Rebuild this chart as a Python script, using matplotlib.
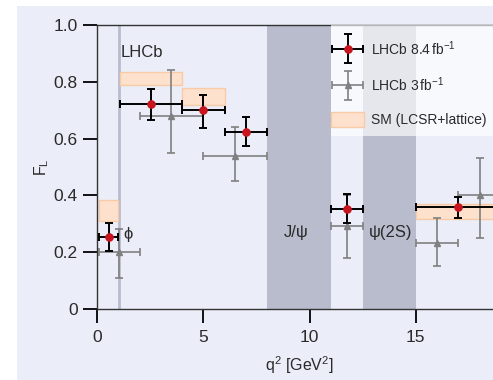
import matplotlib
matplotlib.use("Agg")
import matplotlib.pyplot as plt
from matplotlib.patches import Rectangle
from matplotlib.container import ErrorbarContainer
from matplotlib.legend_handler import HandlerErrorbar

plt.rcParams['font.family'] = ['Liberation Sans', 'DejaVu Sans']
plt.rcParams['mathtext.fontset'] = 'custom'
plt.rcParams['mathtext.rm'] = 'Liberation Sans'
plt.rcParams['mathtext.it'] = 'Liberation Sans:italic'
plt.rcParams['mathtext.bf'] = 'Liberation Sans:bold'

# LHCb 8.4 fb^-1 measurement: q2 bins, F_L and asymmetric uncertainties
new_lo = [0.1, 1.1, 4.0, 6.0, 11.0, 15.0]
new_hi = [0.98, 4.0, 6.0, 8.0, 12.5, 19.0]
new_fl = [0.254, 0.722, 0.699, 0.623, 0.352, 0.357]
new_up = [0.049, 0.052, 0.054, 0.053, 0.051, 0.038]
new_dn = [0.051, 0.056, 0.061, 0.051, 0.049, 0.036]

# LHCb 3 fb^-1 measurement
old_lo = [0.1, 2.0, 5.0, 11.0, 15.0, 17.0]
old_hi = [2.0, 5.0, 8.0, 12.5, 17.0, 19.0]
old_fl = [0.20, 0.68, 0.54, 0.29, 0.23, 0.40]
old_up = [0.08, 0.16, 0.10, 0.11, 0.09, 0.13]
old_dn = [0.09, 0.13, 0.09, 0.11, 0.08, 0.15]

# SM prediction (LCSR + lattice) ranges
sm_lo = [0.1, 1.1, 4.0, 15.0]
sm_hi = [0.98, 4.0, 6.0, 19.0]
sm_min = [0.308, 0.787, 0.718, 0.315]
sm_max = [0.382, 0.833, 0.777, 0.369]

# charmonium vetoes and phi resonance
veto_lo = [8.0, 12.5]
veto_hi = [11.0, 15.0]
veto_names = ['J/\u03c8', '\u03c8(2S)']
phi_q2 = 1.04

xticks = [0, 5, 10, 15]
yticks = [0, 0.2, 0.4, 0.6, 0.8, 1.0]
yticklabels = ['0', '0.2', '0.4', '0.6', '0.8', '1.0']

panel = '#ebeef8'
band = '#b8bccc'
text_c = '#2a2a2a'

fig = plt.figure(figsize=(4.93, 3.80), dpi=100)
fig.patch.set_facecolor('white')
fig.add_artist(Rectangle((17 / 493, 0), 1 - 17 / 493, 374 / 380,
                         transform=fig.transFigure, facecolor=panel,
                         edgecolor='none', zorder=-10))

ax = fig.add_axes([0.1968, 0.1876, 1.016 - 0.1968, 0.934 - 0.1876])
ax.set_facecolor('none')
ax.set_xlim(0, 19)
ax.set_ylim(0, 1)

for lo, hi, name in zip(veto_lo, veto_hi, veto_names):
    ax.axvspan(lo, hi, color=band, lw=0, zorder=0.5)
ax.axvline(phi_q2, color=band, lw=2.0, zorder=0.6)

ax.text(phi_q2 + 0.05, 0.905, 'LHCb', fontsize=12, color=text_c, va='center', ha='left')
ax.text(phi_q2 + 0.18, 0.263, '\u03d5', fontsize=12, color=text_c, va='center', ha='left')
ax.text(8.77, 0.267, veto_names[0], fontsize=12, color=text_c, va='center', ha='left')
ax.text(12.8, 0.267, veto_names[1], fontsize=12, color=text_c, va='center', ha='left')

sm_handle = None
for lo, hi, a, b in zip(sm_lo, sm_hi, sm_min, sm_max):
    r = ax.add_patch(Rectangle((lo, a), hi - lo, b - a, facecolor='#fde1cd',
                               edgecolor='#f8cba8', lw=1.0, zorder=1))
    sm_handle = r

old_x = [(a + b) / 2 for a, b in zip(old_lo, old_hi)]
old_xe = [[x - a for x, a in zip(old_x, old_lo)], [b - x for x, b in zip(old_x, old_hi)]]
eb_old = ax.errorbar(old_x, old_fl, xerr=old_xe, yerr=[old_dn, old_up], fmt='^',
                     color='#808080', ecolor='#808080', ms=4.5, elinewidth=1.2,
                     capsize=2.6, capthick=1.2, zorder=2)

new_x = [(a + b) / 2 for a, b in zip(new_lo, new_hi)]
new_xe = [[x - a for x, a in zip(new_x, new_lo)], [b - x for x, b in zip(new_x, new_hi)]]
eb_new = ax.errorbar(new_x, new_fl, xerr=new_xe, yerr=[new_dn, new_up], fmt='o',
                     color='#c8141e', ecolor='black', ms=5.2, elinewidth=1.4,
                     capsize=2.6, capthick=1.4, zorder=3)

ax.set_xticks(xticks)
ax.set_xticklabels([str(t) for t in xticks])
ax.set_yticks(yticks)
ax.set_yticklabels(yticklabels)
ax.tick_params(direction='out', length=10, width=1.3, color='black',
               labelsize=12.5, labelcolor=text_c)
ax.tick_params(axis='y', pad=4)
ax.tick_params(axis='x', pad=5)

for s in ['left', 'bottom', 'top']:
    ax.spines[s].set_color('#333333')
    ax.spines[s].set_linewidth(1.0)
ax.spines['right'].set_visible(False)

ax.set_xlabel('q$^{2}$ [GeV$^{2}$]', fontsize=11.5, color=text_c, labelpad=7)
ax.set_ylabel('F$_{\\mathrm{L}}$', fontsize=11.5, color=text_c, labelpad=2)

# translucent white panel behind the legend
ax.add_patch(Rectangle((11.0, 0.609), 19 - 11.0, 1 - 0.609, facecolor='white',
                       alpha=0.65, edgecolor='none', zorder=4))

fs = 10
px_per_unit = ax.get_position().width * fig.get_figwidth() * fig.dpi / 19
leg_pad = 1.0
leg = ax.legend([eb_new, eb_old, sm_handle],
                ['LHCb 8.4$\\,$fb$^{-1}$', 'LHCb 3$\\,$fb$^{-1}$', 'SM (LCSR+lattice)'],
                loc='upper left',
                bbox_to_anchor=(11.0 - leg_pad * fs * 100 / 72 / px_per_unit, 1.0),
                bbox_transform=ax.transData, borderaxespad=0,
                fontsize=fs, frameon=False, handlelength=2.4,
                handleheight=1.2, handletextpad=0.5, labelspacing=1.3,
                borderpad=leg_pad,
                handler_map={ErrorbarContainer: HandlerErrorbar(xerr_size=1.15, yerr_size=1.05)})
leg.set_zorder(5)
for t in leg.get_texts():
    t.set_color(text_c)

fig.savefig('out.png', dpi=100)
